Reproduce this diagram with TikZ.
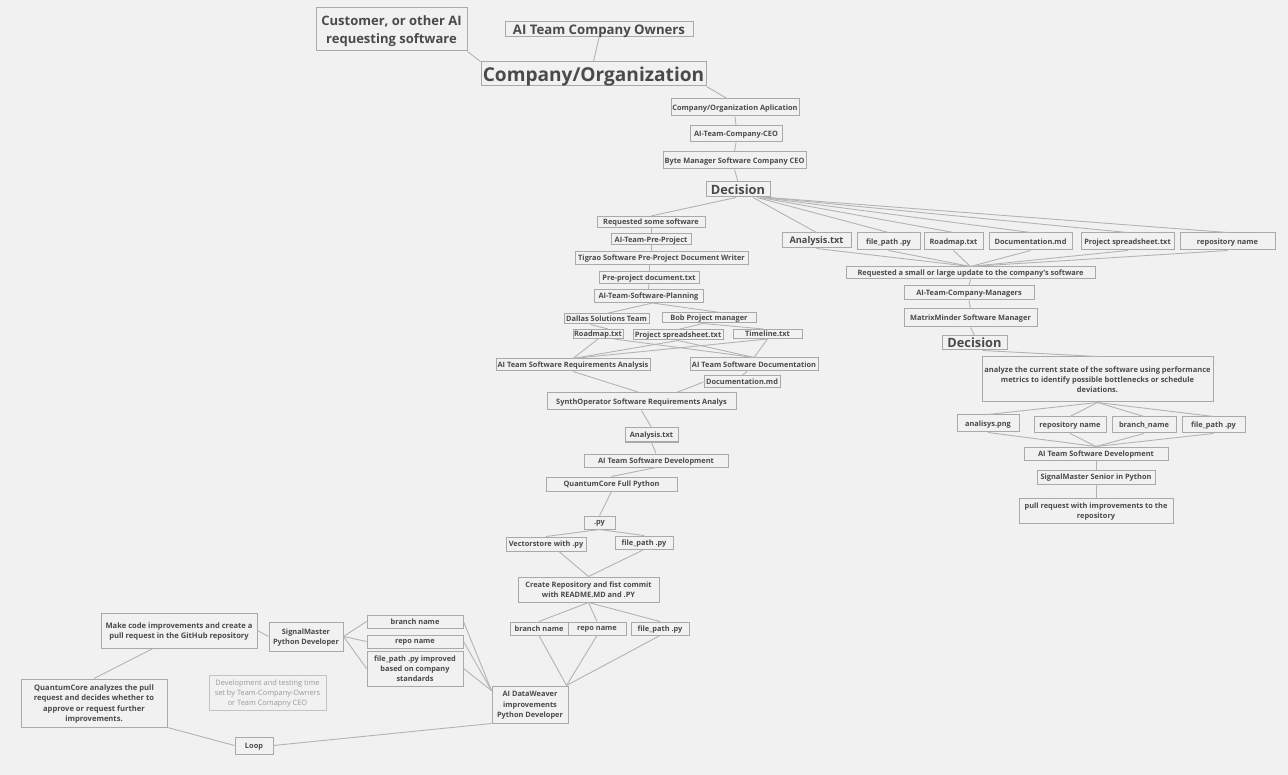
\documentclass[tikz,border=0pt]{standalone}
\usepackage{fontspec}
\setmainfont{Open Sans}
\definecolor{bgcol}{HTML}{F1F1F1}
\definecolor{boxcol}{HTML}{A9A9A9}
\definecolor{txtcol}{HTML}{4A4A4A}
\definecolor{linecol}{HTML}{B3B3B3}
\definecolor{notecol}{HTML}{9A9A9A}
\newcommand\myfs[2]{\fontsize{#1}{#2}\selectfont\bfseries}
\begin{document}
\begin{tikzpicture}[x=1pt,y=-1pt,
  box/.style={draw=boxcol, line width=1pt, fill=bgcol, text=txtcol, inner sep=0pt, align=center, text depth=0pt, font=\myfs{7.4}{10.2}},
  note/.style={draw=boxcol!70, line width=1pt, fill=bgcol, text=notecol, inner sep=0pt, align=center, text depth=0pt, font=\fontsize{7.4}{10.2}\selectfont},
  sz/.style 2 args={minimum width=#1pt, minimum height=#2pt},
  conn/.style={draw=linecol, line width=0.9pt}]
\fill[bgcol] (0,0) rectangle (1288,775);
\useasboundingbox (0,0) rectangle (1288,775);
% top
\node[box, sz={151}{43}, font=\myfs{13}{17.5}] (cust) at (391.5,29.5) {Customer, or other AI\\requesting software};
\node[box, sz={188}{15}, font=\myfs{13.2}{15}] (own) at (599,29.5) {AI Team Company Owners};
\node[box, sz={225}{24}, font=\myfs{19.1}{24}] (org) at (593.5,74) {Company/Organization};
\node[box, sz={128}{17}] (app) at (735,107.5) {Company/Organization Aplication};
\node[box, sz={92}{16}] (ceo) at (736,134) {AI-Team-Company-CEO};
\node[box, sz={143}{17}] (byte) at (734.5,160.5) {Byte Manager Software Company CEO};
\node[box, sz={64}{15}, font=\myfs{12.8}{14}] (dec1) at (738,189.5) {Decision};
% left branch
\node[box, sz={108}{11}] (req) at (651,222) {Requested some software};
\node[box, sz={80}{11}] (pre) at (651,239.5) {AI-Team-Pre-Project};
\node[box, sz={173}{13}] (tig) at (661.5,258) {Tigrao Software Pre-Project Document Writer};
\node[box, sz={100}{12}] (predoc) at (649,277.5) {Pre-project document.txt};
\node[box, sz={109}{13}] (plan) at (648.5,296) {AI-Team-Software-Planning};
\node[box, sz={85}{10}] (dallas) at (606.5,319) {Dallas Solutions Team};
\node[box, sz={94}{10}] (bob) at (709,318) {Bob Project manager};
\node[box, sz={50}{9}] (road1) at (598,334) {Roadmap.txt};
\node[box, sz={90}{10}] (spread1) at (678,335) {Project spreadsheet.txt};
\node[box, sz={69}{9}] (time) at (767.5,334) {Timeline.txt};
\node[box, sz={154}{12}] (rqa) at (573,365) {AI Team Software Requirements Analysis};
\node[box, sz={128}{13}] (doc) at (754,364.5) {AI Team Software Documentation};
\node[box, sz={76}{12}] (docmd1) at (742,382) {Documentation.md};
\node[box, sz={189}{17}] (synth) at (641.5,401.5) {SynthOperator Software Requirements Analys};
\node[box, sz={53}{14}] (ana1) at (651.5,435) {Analysis.txt};
\node[box, sz={144}{13}] (dev1) at (656,460.5) {AI Team Software Development};
\node[box, sz={131}{14}] (qc) at (611.5,484) {QuantumCore Full Python};
\node[box, sz={31}{13}] (py) at (599.5,522.5) {.py};
\node[box, sz={80}{14}] (vec) at (546,544) {Vectorstore with .py};
\node[box, sz={58}{13}] (fp1) at (644,542.5) {file\_path .py};
\node[box, sz={141}{25}] (create) at (588.5,589.5) {Create Repository and fist commit\\with README.MD and .PY};
\node[box, sz={58}{13}] (br2) at (539,628.5) {branch name};
\node[box, sz={58}{13}] (rn2) at (597,628.5) {repo name};
\node[box, sz={58}{13}] (fp2) at (660,628.5) {file\_path .py};
\node[box, sz={76}{37}, font=\myfs{7.4}{10.5}] (dw) at (530,704.5) {AI DataWeaver\\improvements\\Python Developer};
\node[box, sz={96}{13}] (br3) at (415,621.5) {branch name};
\node[box, sz={96}{13}] (rn3) at (415,641.5) {repo name};
\node[box, sz={96}{35}] (fp3) at (415,668.5) {file\_path .py improved\\based on company\\standards};
\node[box, sz={74}{29}] (sm) at (306,636.5) {SignalMaster\\Python Developer};
\node[box, sz={156}{35}, font=\myfs{7.6}{10.2}] (make) at (179,630.5) {Make code improvements and create a\\pull request in the GitHub repository};
\node[box, sz={146}{48}, font=\myfs{7.6}{10.3}] (qca) at (94,703) {QuantumCore analyzes the pull\\request and decides whether to\\approve or request further\\improvements.};
\node[note, sz={117}{35}] (note) at (267.5,692.5) {Development and testing time\\set by Team-Company-Owners\\or Team Comapny CEO};
\node[box, sz={38}{17}] (loop) at (254,745.5) {Loop};
% right branch
\node[box, sz={69}{15}, font=\myfs{9.2}{11}] (ana2) at (816.5,240.5) {Analysis.txt};
\node[box, sz={63}{17}] (fp4) at (888.5,241.5) {file\_path .py};
\node[box, sz={59}{17}] (road2) at (953.5,241.5) {Roadmap.txt};
\node[box, sz={83}{17}] (docmd2) at (1030.5,241.5) {Documentation.md};
\node[box, sz={93}{17}] (spread2) at (1127.5,241.5) {Project spreadsheet.txt};
\node[box, sz={95}{17}] (repo2) at (1227.5,241.5) {repository name};
\node[box, sz={249}{12}] (upd) at (970.5,273) {Requested a small or large update to the company's software};
\node[box, sz={130}{14}] (mgr) at (969,293) {AI-Team-Company-Managers};
\node[box, sz={133}{18}] (mm) at (970.5,318) {MatrixMinder Software Manager};
\node[box, sz={65}{14}, font=\myfs{12.8}{14}] (dec2) at (974.5,343) {Decision};
\node[box, sz={231}{45}, font=\myfs{7.5}{10}] (anz) at (1097.5,379.5) {analyze the current state of the software using performance\\metrics to identify possible bottlenecks or schedule\\deviations.};
\node[box, sz={62}{17}] (png) at (988,423.5) {analisys.png};
\node[box, sz={72}{16}] (repo3) at (1070,425) {repository name};
\node[box, sz={64}{16}] (br4) at (1144,425) {branch\_name};
\node[box, sz={63}{16}] (fp5) at (1213.5,425) {file\_path .py};
\node[box, sz={144}{13}] (dev2) at (1096,453.5) {AI Team Software Development};
\node[box, sz={118}{14}] (sms) at (1096,477) {SignalMaster Senior in Python};
\node[box, sz={154}{25}] (pr) at (1096,510.5) {pull request with improvements to the\\repository};
% connectors top
\draw[conn] (cust.south east) -- (org.north west);
\draw[conn] (own.south) -- (org.north);
\draw[conn] (org.south east) -- ([xshift=-8pt]app.north);
\draw[conn] (app.south) -- (ceo.north);
\draw[conn] (ceo.south) -- (byte.north);
\draw[conn] (byte.south) -- (dec1.north);
\draw[conn] ([xshift=-2pt]dec1.south) -- (req.north);
\draw[conn] ([xshift=15pt]dec1.south) -- (ana2.north);
\draw[conn] ([xshift=19pt]dec1.south) -- (fp4.north);
\draw[conn] ([xshift=22pt]dec1.south) -- (road2.north);
\draw[conn] ([xshift=25pt]dec1.south) -- (docmd2.north);
\draw[conn] ([xshift=28pt]dec1.south) -- (spread2.north);
\draw[conn] ([xshift=30pt]dec1.south) -- (repo2.north);
% left branch connectors
\draw[conn] (req.south) -- (pre.north);
\draw[conn] (pre.south) -- (pre.south |- tig.north);
\draw[conn] (predoc.north |- tig.south) -- (predoc.north);
\draw[conn] (predoc.south) -- (plan.north);
\draw[conn] ([xshift=4pt]plan.south) -- (dallas.north);
\draw[conn] ([xshift=4pt]plan.south) -- ([xshift=11pt]bob.north);
\draw[conn] ([xshift=-16pt]dallas.south) -- ([xshift=10pt]road1.north);
\draw[conn] ([xshift=-6pt]bob.south) -- (spread1.north);
\draw[conn] ([xshift=-6pt]bob.south) -- ([xshift=-4pt]time.north);
\draw[conn] (road1.south) -- (rqa.north);
\draw[conn] ([xshift=16pt]road1.south) -- (doc.north);
\draw[conn] (spread1.south) -- (rqa.north);
\draw[conn] (spread1.south) -- (doc.north);
\draw[conn] (time.south) -- (rqa.north);
\draw[conn] (time.south) -- (doc.north);
\draw[conn] (rqa.south) -- ([xshift=-2pt]synth.north);
\draw[conn] ([xshift=-7pt]doc.south) -- (docmd1.north);
\draw[conn] (docmd1.west) -- ([xshift=35pt]synth.north);
\draw[conn] (synth.south) -- (ana1.north);
\draw[conn] (ana1.south) -- (dev1.north);
\draw[conn] (dev1.south) -- (qc.north);
\draw[conn] (qc.south) -- (py.north);
\draw[conn] (py.south) -- (vec.north);
\draw[conn] (py.south) -- (fp1.north);
\draw[conn] ([xshift=13pt]vec.south) -- (create.north);
\draw[conn] (fp1.south) -- (create.north);
\draw[conn] (create.south) -- (br2.north);
\draw[conn] (create.south) -- (rn2.north);
\draw[conn] (create.south) -- (fp2.north);
\draw[conn] (br2.south) -- ([xshift=-2pt]dw.north east);
\draw[conn] (rn2.south) -- ([xshift=-2pt]dw.north east);
\draw[conn] (fp2.south) -- ([xshift=-2pt]dw.north east);
\draw[conn] (sm.east) -- (br3.west);
\draw[conn] (sm.east) -- (rn3.west);
\draw[conn] (sm.east) -- (fp3.west);
\draw[conn] (br3.east) -- ([yshift=-5pt]dw.north west);
\draw[conn] (rn3.east) -- ([yshift=-5pt]dw.north west);
\draw[conn] (fp3.east) -- ([yshift=-5pt]dw.north west);
\draw[conn] (make.east) -- (sm.west);
\draw[conn] ([xshift=-26pt]make.south) -- (qca.north);
\draw[conn] (qca.south east) -- (loop.west);
\draw[conn] (loop.east) -- (dw.south west);
% right branch connectors
\foreach \n in {ana2,fp4,road2,docmd2,spread2,repo2} {\draw[conn] (\n.south) -- (upd.north);}
\draw[conn] (upd.south) -- (mgr.north);
\draw[conn] (mgr.south) -- (mm.north);
\draw[conn] (mm.south) -- (dec2.north);
\draw[conn] ([xshift=8pt]dec2.south) -- (anz.north);
\foreach \n in {png,repo3,br4,fp5} {\draw[conn] (anz.south) -- (\n.north); \draw[conn] (\n.south) -- (dev2.north);}
\draw[conn] (dev2.south) -- (sms.north);
\draw[conn] (sms.south) -- (pr.north);
\end{tikzpicture}
\end{document}
